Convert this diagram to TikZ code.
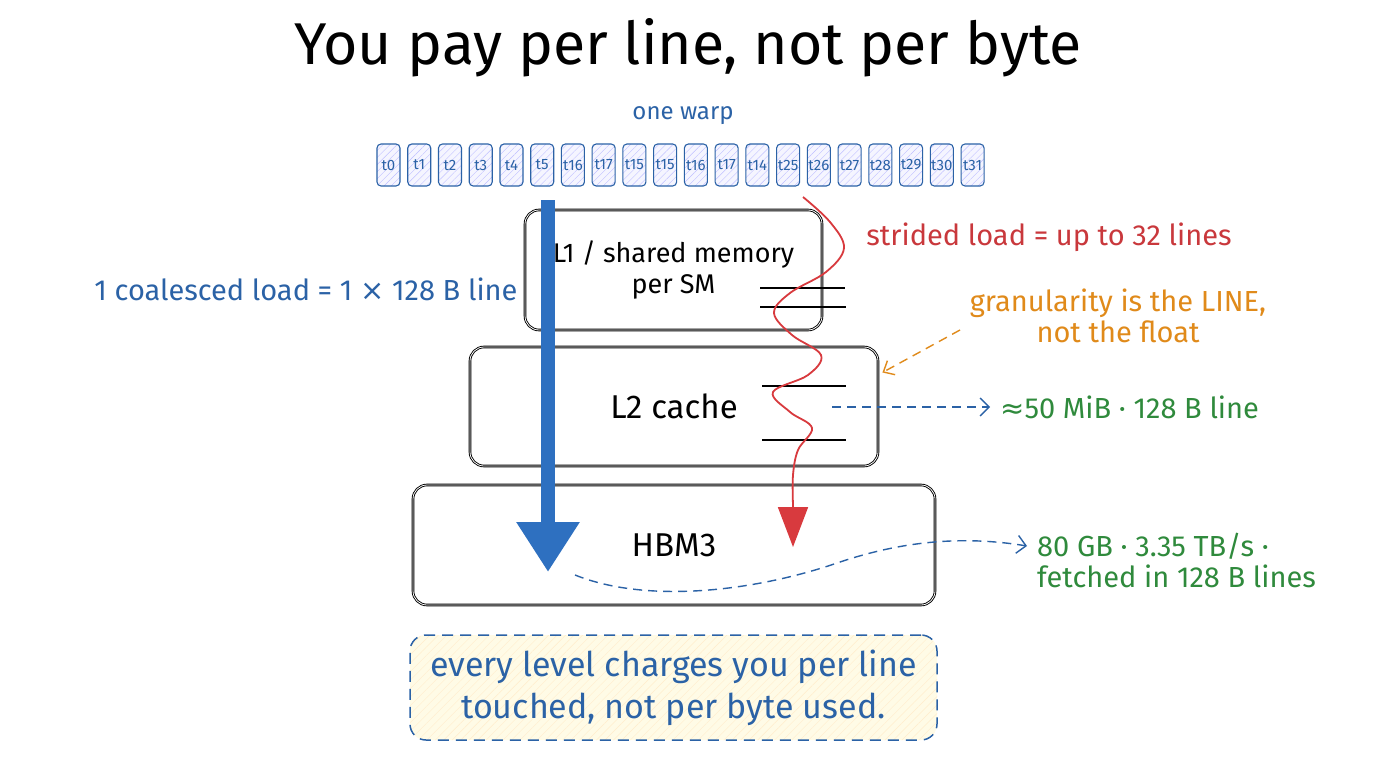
\documentclass[tikz,border=0pt]{standalone}
\usepackage{fontspec}
\setmainfont{Fira Sans}
\newfontfamily\symf{DejaVu Sans}
\usetikzlibrary{arrows.meta,patterns.meta,calc}
\definecolor{warpblue}{HTML}{2B62A6}
\definecolor{arrowblue}{HTML}{2E70C0}
\definecolor{redC}{HTML}{C9383C}
\definecolor{redA}{HTML}{D83A3E}
\definecolor{orangeC}{HTML}{E08A1A}
\definecolor{greenC}{HTML}{2F8A3C}
\definecolor{noteY}{HTML}{FFFBE6}
\begin{document}
\begin{tikzpicture}[x=1pt,y=-1pt,
  thread/.style={draw=warpblue, line width=1.1pt, rounded corners=4pt,
    minimum width=23pt, minimum height=42pt, inner sep=0pt,
    text=warpblue, font=\fontsize{15}{16}\selectfont,
    preaction={fill=blue!4},
    pattern={Lines[angle=45,distance=5pt,line width=0.4pt]}, pattern color=blue!25},
  level/.style={draw=black, line width=0.9pt, double=white, double distance=0.8pt,
    rounded corners=14pt, fill=white, align=center,
    font=\fontsize{27}{31}\selectfont},
  tick/.style={draw=black, line width=1.2pt},
  lbl/.style={font=\fontsize{29}{31}\selectfont, inner sep=0pt},
  dasharrow/.style={draw=warpblue, line width=1.4pt, dash pattern=on 9pt off 6pt,
    -{Straight Barb[length=9pt,width=18pt,line width=1.4pt]}},
  note/.style={draw=warpblue, line width=1.5pt, dash pattern=on 11pt off 7pt,
    rounded corners=16pt, minimum width=527pt, minimum height=105pt,
    preaction={fill=noteY},
    pattern={Lines[angle=45,distance=6pt,line width=0.4pt]}, pattern color=yellow!30!orange!20,
    align=center, text=warpblue, font=\fontsize{34}{42}\selectfont}
]
\useasboundingbox (0,0) rectangle (1376,768);
\fill[white] (0,0) rectangle (1376,768);

% title
\node[font=\fontsize{59}{64}\selectfont] (title) at (688,48) {You pay per line, not per byte};

% warp
\node[text=warpblue, font=\fontsize{24}{26}\selectfont] (warp) at (683,116) {one warp};
\foreach \t [count=\i from 0] in {t0,t1,t2,t3,t4,t5,t16,t17,t15,t15,t16,t17,t14,t25,t26,t27,t28,t29,t30,t31}
  \node[thread] (th\i) at ({388.5+30.74*\i},165) {\t};

% memory levels
\node[level, minimum width=297pt, minimum height=120pt] (l1) at (673.5,270) {L1 / shared memory\\per SM};
\node[level, minimum width=408pt, minimum height=119pt, font=\fontsize{33}{36}\selectfont] (l2) at (674,406.5) {L2 cache};
\node[level, minimum width=522pt, minimum height=120pt, font=\fontsize{33}{36}\selectfont] (hbm) at (674,545) {HBM3};

% cache line ticks
\draw[tick] ($(l1.east)+(-62,18)$) -- ($(l1.east)+(23,18)$);
\draw[tick] ($(l1.east)+(-62,37)$) -- ($(l1.east)+(24,37)$);
\draw[tick] ($(l2.east)+(-116,-20.5)$) -- ($(l2.east)+(-32,-20.5)$);
\draw[tick] ($(l2.east)+(-116,33.5)$) -- ($(l2.east)+(-32,33.5)$);

% coalesced arrow
\coordinate (bs) at (548,200);
\coordinate (be) at (548,572);
\draw[arrowblue, line width=14pt, -{Triangle[length=50pt,width=60pt]}] (bs) -- (be);

% strided arrow
\coordinate (rs) at (803,197);
\coordinate (re) at (793,547);
\draw[redA, line width=1.8pt, -{Triangle[length=40pt,width=30pt]}]
  plot[smooth, tension=0.6] coordinates {(rs) (830,222) (844,248) (826,272) (790,293) (774,313) (792,335) (821,355) (808,375) (773,392) (790,412) (812,428) (798,450) (793,475) (793,505)} -- (re);

% labels
\node[lbl, text=redC] (strided) at (1049,237) {strided load = up to 32 lines};
\node[lbl, text=warpblue] (coal) at (306,289) {1 coalesced load = 1 {\symf×} 128 B line};
\node[lbl, text=orangeC, align=center] (gran) at (1118,316) {granularity is the LINE,\\not the float};

% orange pointer
\coordinate (gs) at (960,330);
\coordinate (gt) at ($(l2.east)+(4,-34)$);
\draw[orangeC, line width=1.4pt, dash pattern=on 9pt off 6pt, -{Straight Barb[length=9pt,width=16pt,line width=1.4pt]}] (gs) -- (gt);

% L2 spec
\coordinate (l2s) at (832,407);
\node[lbl, text=greenC, anchor=west] (l2spec) at (1000,407) {{\symf≈}50 MiB · 128 B line};
\draw[dasharrow] (l2s) -- ($(l2spec.west)+(-10,0)$);

% HBM spec
\coordinate (hs) at (575,575);
\node[lbl, text=greenC, anchor=west, align=left] (hspec) at (1037,560) {80 GB · 3.35 TB/s ·\\fetched in 128 B lines};
\coordinate (he) at (1027,546);
\draw[dasharrow] (hs) .. controls (650,605) and (760,590) .. (840,562) .. controls (900,542) and (960,535) .. (he);

% bottom note
\node[note] (nt) at (673.5,687.5) {every level charges you per line\\touched, not per byte used.};
\end{tikzpicture}
\end{document}
